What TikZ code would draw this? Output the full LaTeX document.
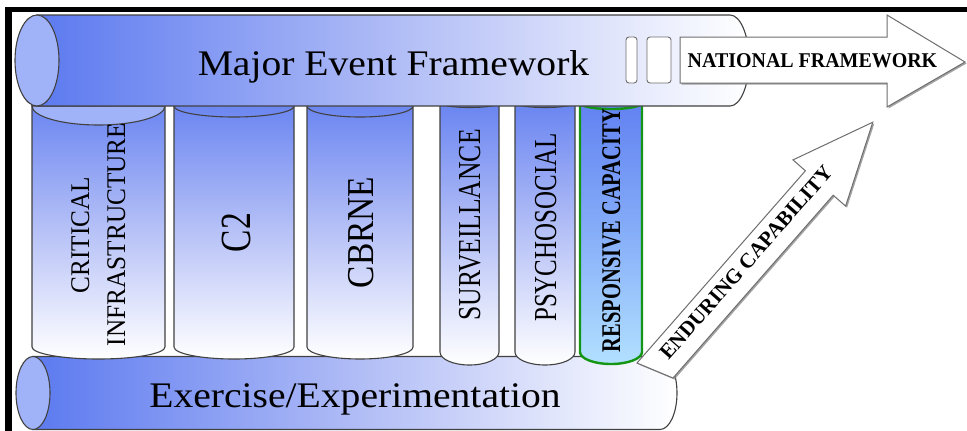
\documentclass[tikz,border=0pt]{standalone}
\usepackage{fontspec}
\setmainfont{Liberation Serif}
\usepackage{graphicx}
\usetikzlibrary{shadows}
\definecolor{bluedk}{RGB}{92,122,240}
\definecolor{bluemid}{RGB}{176,188,246}
\definecolor{capc}{RGB}{160,178,248}
\definecolor{outlc}{RGB}{65,65,65}
\definecolor{greenc}{RGB}{20,150,20}
\definecolor{cyanlt}{RGB}{178,224,255}
\definecolor{greenblue}{RGB}{130,170,248}
\definecolor{arrowc}{RGB}{110,110,110}
\tikzset{
  outl/.style={draw=outlc, line width=1.1pt},
  capface/.style={fill=capc, draw=outlc, line width=1.1pt},
  hcyl/.style={left color=bluedk, right color=white, middle color=bluemid, draw=outlc, line width=1.1pt},
  pillar/.style={top color=bluedk, bottom color=white, middle color=bluemid, draw=outlc, line width=1.1pt},
  greenpillar/.style={top color=bluedk, bottom color=cyanlt, middle color=greenblue, draw=greenc, line width=2.4pt},
  bigarrow/.style={fill=white, draw=arrowc, line width=1pt, line join=miter,
    drop shadow={shadow xshift=1.5pt, shadow yshift=-1.5pt, fill=black!45, opacity=0.8}},
  slice/.style={fill=white, draw=arrowc, line width=0.9pt, rounded corners=3pt},
  lbl/.style={inner sep=0pt, outer sep=0pt, text=black},
}
\begin{document}
\begin{tikzpicture}[x=1pt, y=-1pt]
\useasboundingbox (0,0) rectangle (967,431);
\fill[white] (0,0) rectangle (967,431);
% frame bars
\fill[black] (5,7) rectangle (967,12);
\fill[black] (5,7) rectangle (12,431);

% bottom cylinder
\path[hcyl] (33,356.5) -- (660,356.5) .. controls (669.4,356.5) and (677,372.8) .. (677,393)
  .. controls (677,413.2) and (669.4,429.5) .. (660,429.5) -- (33,429.5) -- cycle;
\path[capface] (33,393) ellipse [x radius=17, y radius=36.5];

% pillars
\path[pillar] (32,80) -- (32,347) .. controls (32,353.6) and (61.8,359) .. (98.5,359)
  .. controls (135.2,359) and (165,353.6) .. (165,347) -- (165,80) -- cycle;
\path[pillar] (174,80) -- (174,347) .. controls (174,353.6) and (200.9,359) .. (234,359)
  .. controls (267.1,359) and (294,353.6) .. (294,347) -- (294,80) -- cycle;
\path[pillar] (307,80) -- (307,347) .. controls (307,353.6) and (330.7,359) .. (360,359)
  .. controls (389.3,359) and (413,353.6) .. (413,347) -- (413,80) -- cycle;
\path[pillar] (440,80) -- (440,352) .. controls (440,359.2) and (453.2,365) .. (469.5,365)
  .. controls (485.8,365) and (499,359.2) .. (499,352) -- (499,80) -- cycle;
\path[pillar] (515,80) -- (515,352) .. controls (515,359.2) and (528.4,365) .. (545,365)
  .. controls (561.6,365) and (575,359.2) .. (575,352) -- (575,80) -- cycle;
\path[greenpillar] (580,80) -- (580,352) .. controls (580,358.6) and (593.9,364) .. (611,364)
  .. controls (628.1,364) and (642,358.6) .. (642,352) -- (642,80) -- cycle;

% pillar top rims
\path[capface] (32,106) .. controls (32,116.5) and (61.8,125) .. (98.5,125)
  .. controls (135.2,125) and (165,116.5) .. (165,106) -- cycle;
\draw[outl] (174,106) .. controls (174,112.1) and (200.9,117) .. (234,117)
  .. controls (267.1,117) and (294,112.1) .. (294,106);
\draw[outl] (307,106) .. controls (307,112.1) and (330.7,117) .. (360,117)
  .. controls (389.3,117) and (413,112.1) .. (413,106);
\draw[outl] (440,103) .. controls (440,105.5) and (453.2,107.5) .. (469.5,107.5)
  .. controls (485.8,107.5) and (499,105.5) .. (499,103);
\draw[outl] (515,103) .. controls (515,105.5) and (528.4,107.5) .. (545,107.5)
  .. controls (561.6,107.5) and (575,105.5) .. (575,103);
\draw[draw=greenc, line width=2.4pt] (580,103) .. controls (580,106.3) and (593.9,109) .. (611,109)
  .. controls (628.1,109) and (642,106.3) .. (642,103);

% top cylinder
\path[hcyl] (37,15) -- (730,15) .. controls (740.5,15) and (749,35.4) .. (749,60.5)
  .. controls (749,85.6) and (740.5,106) .. (730,106) -- (37,106) -- cycle;
\path[capface] (37,60.5) ellipse [x radius=22, y radius=45.5];

% slices and national framework arrow
\path[slice] (626,37) rectangle (637,83);
\path[slice] (647,37) rectangle (671,83);
\path[bigarrow] (680,37) -- (887,37) -- (887,15) -- (965,62) -- (887,107) -- (887,83) -- (680,83) -- cycle;

% enduring capability arrow
\path[bigarrow] (637,363) -- (805.4,170.8) -- (793,159.9) -- (872.8,122.2) -- (845.6,206.1)
  -- (833.2,195.2) -- (673,378) -- cycle;

% labels
\node[lbl, anchor=base] (mef) at (393.5,75) {\fontsize{36}{40}\selectfont\scalebox{1.1}[1]{Major Event Framework}};
\node[lbl, anchor=base] (exp) at (355,407) {\fontsize{36}{40}\selectfont\scalebox{1.1}[1]{Exercise/Experimentation}};
\node[lbl, anchor=base, rotate=90] (crit) at (89,235) {\fontsize{27}{30}\selectfont\scalebox{0.935}[1]{CRITICAL}};
\node[lbl, anchor=base, rotate=90] (infra) at (125,234.5) {\fontsize{27}{30}\selectfont\scalebox{0.935}[1]{INFRASTRUCTURE}};
\node[lbl, anchor=base, rotate=90] (ctwo) at (250,232.5) {\fontsize{43}{46}\selectfont\scalebox{0.78}[1]{C2}};
\node[lbl, anchor=base, rotate=90] (cbrne) at (373,232.5) {\fontsize{38}{42}\selectfont\scalebox{0.88}[1]{CBRNE}};
\node[lbl, anchor=base, rotate=90] (surv) at (480,225) {\fontsize{32}{36}\selectfont\scalebox{0.8}[1]{SURVEILLANCE}};
\node[lbl, anchor=base, rotate=90] (psych) at (556,227.5) {\fontsize{32}{36}\selectfont\scalebox{0.78}[1]{PSYCHOSOCIAL}};
\node[lbl, anchor=base, rotate=90] (resp) at (620,230.5) {\fontsize{27}{30}\selectfont\bfseries\scalebox{0.76}[1]{RESPONSIVE CAPACITY}};
\node[lbl, anchor=base] (natl) at (812.5,67) {\fontsize{21}{24}\selectfont\bfseries\scalebox{0.95}[1]{NATIONAL FRAMEWORK}};
\node[lbl, anchor=center, rotate=48.7] (endur) at (746,262.5) {\fontsize{21}{24}\selectfont\bfseries ENDURING CAPABILITY};
\end{tikzpicture}
\end{document}
